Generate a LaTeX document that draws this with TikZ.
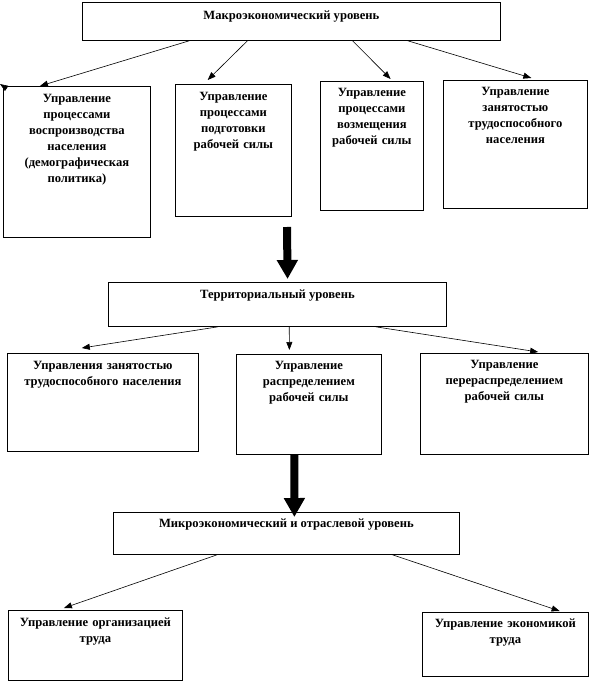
\documentclass[tikz,border=0pt]{standalone}
\usepackage{fontspec}
\setmainfont{Liberation Serif}
\usetikzlibrary{positioning,arrows.meta,calc}

\begin{document}
\begin{tikzpicture}[
    x=1pt, y=-1pt,
    font=\fontsize{12.6}{16}\selectfont\bfseries,
    frame/.style={draw=black, line width=0.8pt, inner sep=0pt},
    txt/.style={anchor=north, align=center, inner sep=0pt},
    thin/.style={-{Triangle[length=8pt,width=6pt]}, line width=0.6pt},
    thick/.style={-{Triangle[length=19pt,width=20pt]}, line width=8pt},
  ]
  \useasboundingbox (0,0) rectangle (591,684);

  % boxes: name / x1 / y1 / x2 / y2
  \foreach \n/\a/\b/\c/\d in {top/82/2/500/40, b1/3/86/150/237, b2/175/84/291/216,
      b3/320/81/423/210, b4/443/80/587/208, terr/108/282/446/326,
      c1/7/353/198/451, c2/236/354/381/454, c3/420/353/588/454,
      micro/113/512/459/554, d1/8/610/182/680, d2/422/612/588/676} {
    \node[frame, minimum width={\c-\a}, minimum height={\d-\b}, anchor=north west] (\n) at (\a,\b) {};
  }

  % Macro level
  \node[txt] (ttop) at ($(top.north)+(0,9)$) {Макроэкономический уровень};
  \node[txt, text width=140pt] (tb1) at ($(b1.north)+(0,8)$)
    {Управление\\процессами\\воспроизводства\\населения\\(демографическая\\политика)};
  \node[txt, text width=112pt] (tb2) at ($(b2.north)+(0,8)$)
    {Управление\\процессами\\подготовки\\рабочей силы};
  \node[txt, text width=102pt] (tb3) at ($(b3.north)+(0,7)$)
    {Управление\\процессами\\возмещения\\рабочей силы};
  \node[txt, text width=140pt] (tb4) at ($(b4.north)+(0,7)$)
    {Управление\\занятостью\\трудоспособного\\населения};
  \draw[thin] ($(top.south west)!0.256!(top.south east)$) -- ($(b1.north west)!0.25!(b1.north east)$);
  \draw[thin] ($(top.south west)!0.395!(top.south east)$) -- ($(b2.north west)!0.28!(b2.north east)+(0,-4)$);
  \draw[thin] ($(top.south west)!0.646!(top.south east)$) -- ($(b3.north west)!0.68!(b3.north east)+(0,-2)$);
  \draw[thin] ($(top.south west)!0.778!(top.south east)$) -- ($(b4.north west)!0.61!(b4.north east)+(0,-2)$);
  \coordinate (lost) at (0,84);
  \draw[thin] (b1.north west) -- (lost);

  \coordinate (g1) at (287,227);
  \draw[thick] (g1) -- ($(terr.north west)!0.53!(terr.north east)+(0,-3)$);

  % Territorial level
  \node[txt] (tterr) at ($(terr.north)+(0,8)$) {Территориальный уровень};
  \node[txt, text width=188pt] (tc1) at ($(c1.north)+(0,8)$)
    {Управления занятостью\\трудоспособного населения};
  \node[txt, text width=142pt] (tc2) at ($(c2.north)+(0,7)$)
    {Управление\\распределением\\рабочей силы};
  \node[txt, text width=165pt] (tc3) at ($(c3.north)+(0,7)$)
    {Управление\\перераспределением\\рабочей силы};
  \draw[thin] ($(terr.south west)!0.325!(terr.south east)$) -- ($(c1.north west)!0.39!(c1.north east)+(0,-5)$);
  \draw[thin] ($(terr.south west)!0.535!(terr.south east)$) -- ($(c2.north west)!0.366!(c2.north east)+(0,-4)$);
  \draw[thin] ($(terr.south west)!0.79!(terr.south east)$) -- ($(c3.north west)!0.70!(c3.north east)+(0,-1)$);

  \draw[thick] ($(c2.south west)!0.4!(c2.south east)$) -- ($(micro.north west)!0.523!(micro.north east)+(0,5)$);

  % Micro level
  \node[txt] (tmicro) at ($(micro.north)+(0,7)$) {Микроэкономический и отраслевой уровень};
  \node[txt, text width=172pt] (td1) at ($(d1.north)+(0,8)$) {Управление организацией\\труда};
  \node[txt, text width=162pt] (td2) at ($(d2.north)+(0,7)$) {Управление экономикой\\труда};
  \draw[thin] ($(micro.south west)!0.30!(micro.south east)$) -- ($(d1.north west)!0.32!(d1.north east)+(0,-2)$);
  \draw[thin] ($(micro.south west)!0.806!(micro.south east)$) -- ($(d2.north west)!0.825!(d2.north east)+(0,-1)$);
\end{tikzpicture}
\end{document}
